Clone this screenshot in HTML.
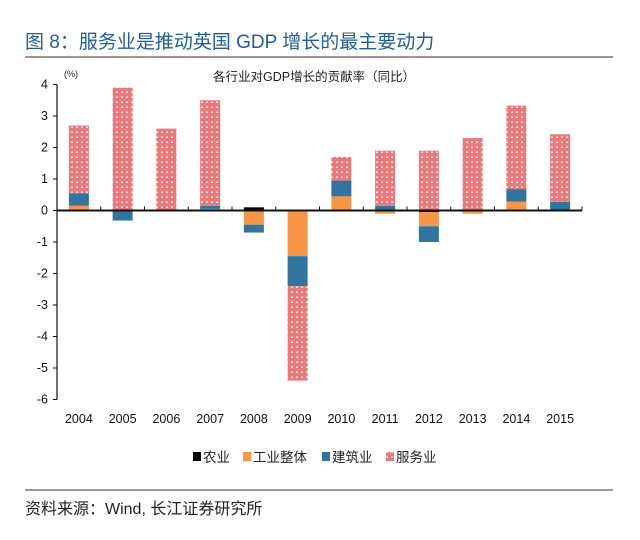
<!DOCTYPE html>
<html><head><meta charset="utf-8"><style>
body{margin:0;background:#fff;width:640px;height:535px;overflow:hidden;font-family:"Liberation Sans","Noto Sans CJK SC",sans-serif}
</style></head><body>
<svg width="640" height="535" xmlns="http://www.w3.org/2000/svg">
<defs>
<pattern id="dots" width="5" height="5" patternUnits="userSpaceOnUse">
<rect width="5" height="5" fill="#e87a7b"/>
<rect x="1" y="1.5" width="2" height="1.5" fill="#fbe2e2"/>
</pattern>
</defs>
<text x="25" y="48" font-size="19" fill="#1f5f9a" font-family="Liberation Sans,Noto Sans CJK SC,sans-serif">图 8：服务业是推动英国 GDP 增长的最主要动力</text>
<line x1="25" y1="57" x2="613" y2="57" stroke="#777" stroke-width="1.5"/>
<text x="213" y="81" font-size="12.5" fill="#222">各行业对GDP增长的贡献率（同比）</text>
<text x="64" y="77" font-size="9" fill="#222">(%)</text>
<g id="plot"></g>
<g id="legend" font-size="13.5" fill="#222"></g>
<line x1="25" y1="490" x2="613" y2="490" stroke="#777" stroke-width="1.5"/>
<text x="25" y="514" font-size="16" fill="#222">资料来源：Wind, 长江证券研究所</text>
</svg>
<script>
const years=["2004","2005","2006","2007","2008","2009","2010","2011","2012","2013","2014","2015"];
const agri=[0,0,0,0,0.1,0,0,0,-0.05,0,0.03,0];
const industry=[0.15,-0.02,0,0.05,-0.45,-1.45,0.45,-0.1,-0.45,-0.1,0.25,0.02];
const construction=[0.4,-0.3,0,0.1,-0.25,-0.95,0.5,0.15,-0.5,0,0.4,0.25];
const services=[2.15,3.9,2.6,3.35,0,-3.0,0.75,1.75,1.9,2.3,2.65,2.15];
const yTicks=[4,3,2,1,0,-1,-2,-3,-4,-5,-6];
const seriesList=[["农业",agri,"#000"],["工业整体",industry,"#f79646"],["建筑业",construction,"#31759f"],["服务业",services,"url(#dots)"]];
const x0=57,x1=582,yTop=84.5,yBot=399.5,vMax=4,vMin=-6;
const ns="http://www.w3.org/2000/svg";
const g=document.getElementById('plot');
function yS(v){return yTop+(vMax-v)/(vMax-vMin)*(yBot-yTop);}
const bw=(x1-x0)/years.length;
function xC(i){return x0+bw*(i+0.5);}
function mk(t,a){const e=document.createElementNS(ns,t);for(const k in a)e.setAttribute(k,a[k]);return e;}
years.forEach((yr,i)=>{
  let pos=0,neg=0;
  seriesList.forEach(s=>{
    const v=s[1][i];if(!v)return;
    let a,b;
    if(v>0){a=pos;b=pos+v;pos=b;}else{a=neg;b=neg+v;neg=b;}
    const r=mk('rect',{x:xC(i)-10,y:Math.min(yS(a),yS(b)),width:20,height:Math.abs(yS(a)-yS(b)),fill:s[2]});
    
    
    g.appendChild(r);
  });
  const t=mk('text',{x:xC(i),y:423,'font-size':12.5,'text-anchor':'middle',fill:'#111'});
  t.textContent=yr;
  
  
  g.appendChild(t);
  const tk=mk('line',{x1:x0+bw*(i+1),x2:x0+bw*(i+1),y1:yS(0)-4,y2:yS(0),stroke:'#111','stroke-width':1});
  g.appendChild(tk);
});
yTicks.forEach(v=>{
  const l=mk('line',{x1:x0-4,x2:x0,y1:yS(v),y2:yS(v),stroke:'#111'});g.appendChild(l);
  const t=mk('text',{x:x0-9,y:yS(v)+4,'font-size':12.5,'text-anchor':'end',fill:'#111'});
  t.textContent=v;
  
  
  g.appendChild(t);
});
const ya=mk('line',{x1:x0,x2:x0,y1:yTop,y2:yBot,stroke:'#111','stroke-width':1.2});
g.appendChild(ya);
const xa=mk('line',{x1:x0,x2:x1,y1:yS(0),y2:yS(0),stroke:'#111','stroke-width':2});
g.appendChild(xa);
const lg=document.getElementById('legend');
const lx=[193,243,322,386];
seriesList.forEach((s,k)=>{
  const r=mk('rect',{x:lx[k],y:452,width:8,height:9,fill:s[2]});
  lg.appendChild(r);
  const t=mk('text',{x:lx[k]+10,y:462});t.textContent=s[0];
  lg.appendChild(t);
});
</script>
</body></html>
